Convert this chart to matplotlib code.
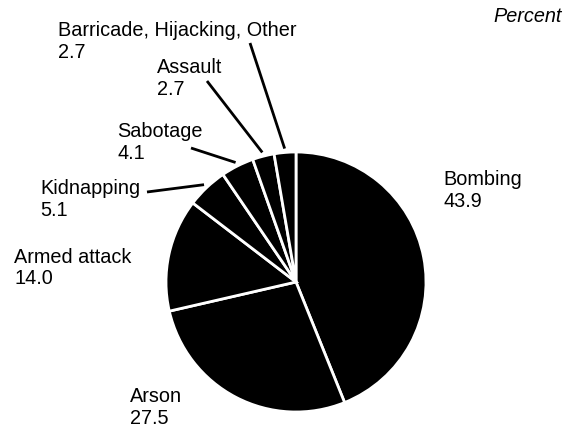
import numpy as np
import matplotlib
matplotlib.use('Agg')
import matplotlib.pyplot as plt

categories = ['Bombing', 'Arson', 'Armed attack', 'Kidnapping', 'Sabotage',
              'Assault', 'Barricade, Hijacking, Other']
values = [43.9, 27.5, 14.0, 5.1, 4.1, 2.7, 2.7]
value_labels = ['43.9', '27.5', '14.0', '5.1', '4.1', '2.7', '2.7']

# label baseline positions in pixels (x left, y from top)
label_pos = [(443, 185), (130, 402), (14, 263), (40, 194), (117, 137),
             (157, 73), (58, 36)]
# outer end of leader line (None = no line)
leader_end = [None, None, None, (147, 192), (191, 148), (207, 81), (250, 43)]

W, H = 570, 428
cx, cy, R = 296, 282, 130

plt.rcParams['font.family'] = ['Liberation Sans', 'DejaVu Sans']
fig = plt.figure(figsize=(W / 100, H / 100), dpi=100)
ax = fig.add_axes([0, 0, 1, 1])

wedges, _ = ax.pie(values, startangle=90, counterclock=False,
                   colors=['black'] * len(values), center=(cx, H - cy), radius=R,
                   wedgeprops=dict(edgecolor='white', linewidth=2))
ax.set_xlim(0, W)
ax.set_ylim(0, H)
ax.set_aspect('equal')
ax.axis('off')

fs = 14.3
for i, w in enumerate(wedges):
    lx, ly = label_pos[i]
    ax.text(lx, H - ly, categories[i], fontsize=fs, ha='left', va='baseline')
    ax.text(lx, H - ly - 21.5, value_labels[i], fontsize=fs, ha='left', va='baseline')
    if leader_end[i] is not None:
        mid = np.deg2rad((w.theta1 + w.theta2) / 2)
        x0 = cx + 1.03 * R * np.cos(mid)
        y0 = (H - cy) + 1.03 * R * np.sin(mid)
        ex, ey = leader_end[i]
        ax.plot([x0, ex], [y0, H - ey], color='black', lw=2, solid_capstyle='butt')

ax.text(562, H - 22, 'Percent', fontsize=fs, style='italic', ha='right', va='baseline')

plt.savefig('out.png', dpi=100)
